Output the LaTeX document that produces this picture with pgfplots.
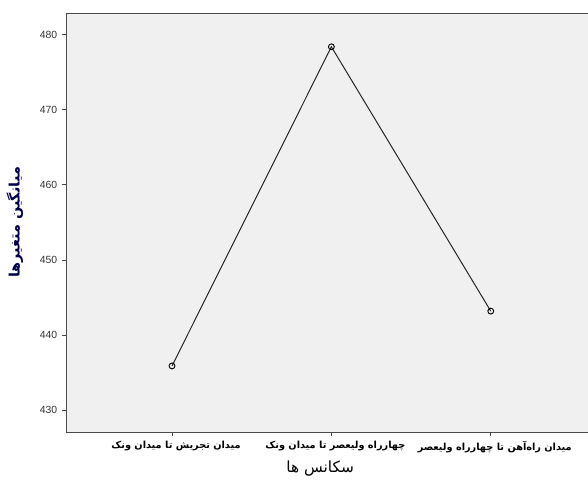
\documentclass[border=0pt]{standalone}
\usepackage{fontspec}
\setmainfont{Liberation Sans}
\newfontfamily\arabicfont[Script=Arabic]{DejaVu Sans}
\TeXXeTstate=1
\usepackage{pgfplots}
\pgfplotsset{compat=1.18}
\definecolor{bgc}{HTML}{F0F0F0}
\definecolor{axc}{HTML}{4A4A4A}
\begin{document}
\begin{tikzpicture}
% 1px = 0.75pt
\begin{axis}[
    scale only axis,
    width=391.5pt, height=314.25pt,
    xmin=-0.665, xmax=2.61,
    ymin=427.1, ymax=482.9,
    xtick={0,1,2},
    xticklabels={
        {\arabicfont\bfseries\beginR میدان تجریش تا میدان ونک\endR},
        {\arabicfont\bfseries\beginR چهارراه ولیعصر تا میدان ونک\endR},
        {\arabicfont\bfseries\beginR میدان راه‌آهن تا چهارراه ولیعصر\endR}},
    ytick={430,440,...,480},
    tick align=outside, tick pos=left,
    major tick length=3pt,
    axis background/.style={fill=bgc},
    axis line style={draw=axc, line width=0.7pt},
    tick style={draw=axc, line width=0.7pt},
    /pgf/number format/assume math mode=true,
    yticklabel style={font=\fontsize{7.8}{9}\selectfont, text=black!80},
    xticklabel style={font=\fontsize{7.3}{9}\selectfont, text=black, xshift=3pt},
    xlabel={\arabicfont\beginR سکانس ها\endR},
    ylabel={\arabicfont\bfseries\beginR میانگین متغیرها\endR},
    xlabel style={font=\fontsize{11.5}{13}\selectfont, at={(axis description cs:0.487,-0.088)}, anchor=center},
    ylabel style={font=\fontsize{10.8}{13}\selectfont, text=black!70!blue, at={(axis description cs:-0.098,0.5)}, anchor=center},
]
\addplot[black!85, line width=0.75pt, mark=o, mark size=2.2pt, mark options={line width=0.7pt, draw=black}] coordinates {
    (0,435.9) (1,478.4) (2,443.2)
};
\coordinate (sw) at (rel axis cs:0,0);
\coordinate (ne) at (rel axis cs:1,1);
\end{axis}
\pgfresetboundingbox
\path[use as bounding box] ([xshift=-49.5pt, yshift=-35.25pt]sw) rectangle ([yshift=9.75pt]ne);
\end{tikzpicture}
\end{document}
